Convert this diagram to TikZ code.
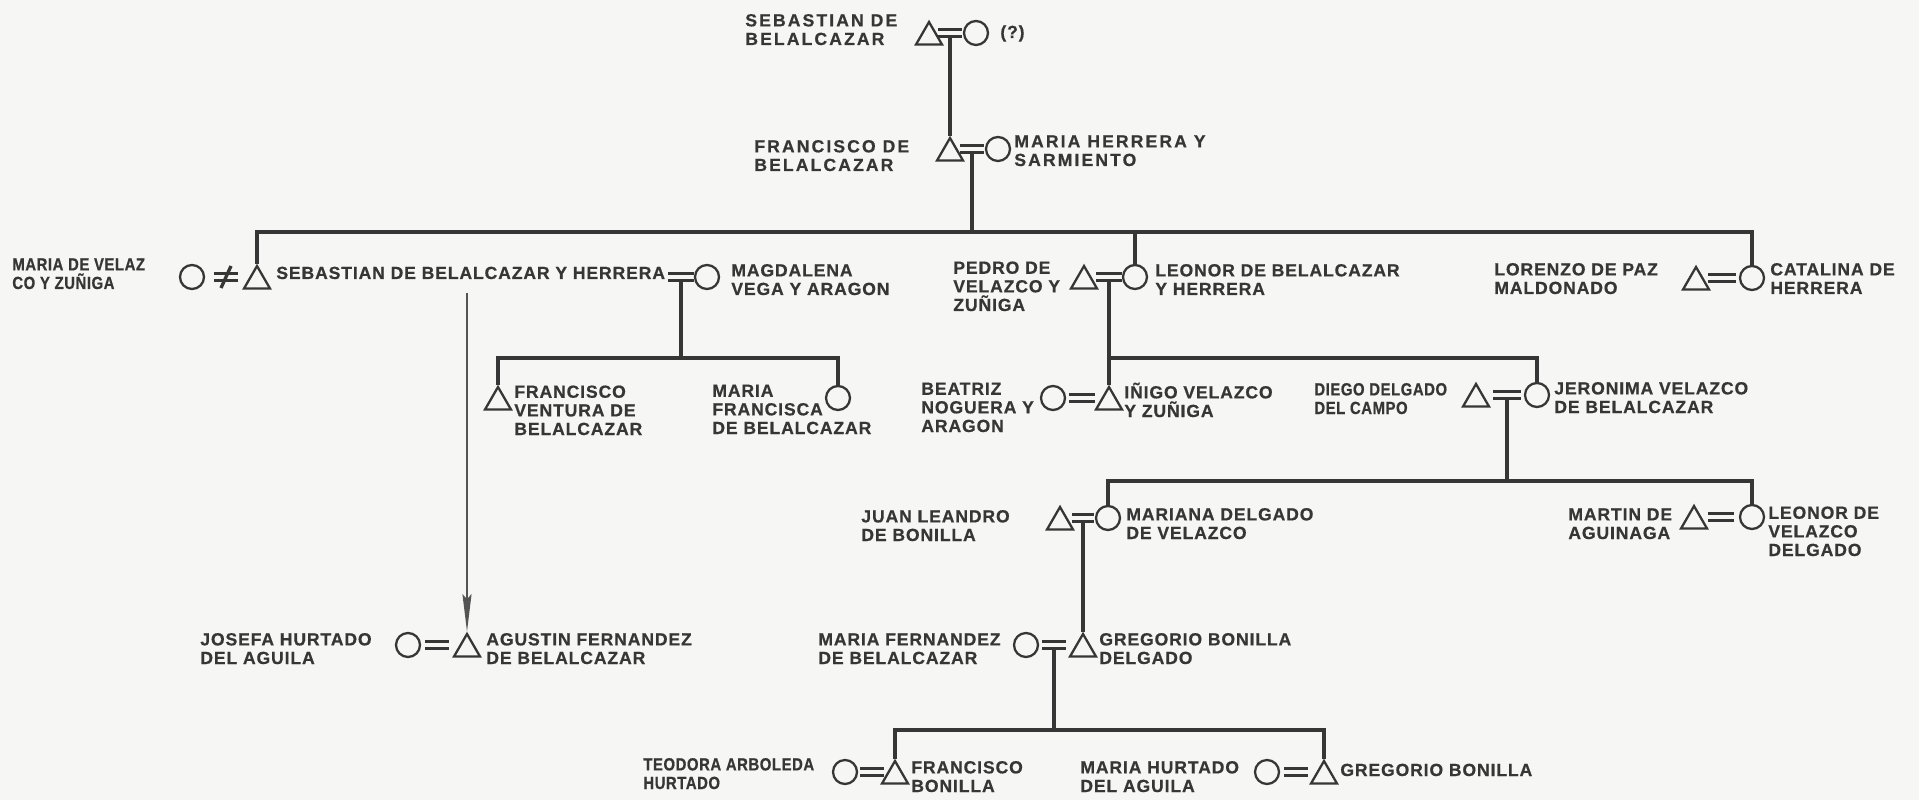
\documentclass[tikz,border=0pt]{standalone}
\usepackage{fontspec}
\setmainfont{Liberation Sans}[LetterSpace=5,FakeBold=0.6]
\newfontfamily\widefam{Liberation Sans}[LetterSpace=12,FakeBold=0.6]
\newfontfamily\narrowfam{Liberation Sans}[LetterSpace=3,FakeStretch=0.85,FakeBold=0.6]
\usetikzlibrary{arrows.meta,calc,shapes.geometric}
\definecolor{ink}{HTML}{363636}
\definecolor{paper}{HTML}{F6F6F4}
\newcommand{\labsize}{\bfseries\fontsize{10}{10.6}\selectfont}
\tikzset{
  male/.style={draw=ink,line width=1.3pt,regular polygon,regular polygon sides=3,minimum size=0.6cm,inner sep=0pt},
  female/.style={draw=ink,line width=1.3pt,circle,minimum size=0.48cm,inner sep=0pt},
  kin/.style={line width=1.8pt,draw=ink},
  wedline/.style={line width=1.9pt,draw=ink},
  illarr/.style={-{Stealth[length=0.75cm,width=0.18cm,inset=0.1cm]},line width=1.2pt,draw=ink!85},
  lab/.style={font=\labsize,text=ink,inner sep=0pt,align=left,anchor=base west},
  labw/.style={lab,font=\widefam\labsize},
  labn/.style={lab,font=\narrowfam\labsize}
}
\newcommand{\wed}[2]{\draw[wedline] ($(#1)+(-#2,-3.5)$) -- ($(#1)+(#2,-3.5)$) ($(#1)+(-#2,3.5)$) -- ($(#1)+(#2,3.5)$);}
\begin{document}
\begin{tikzpicture}[x=0.02cm,y=-0.02cm]
  \fill[paper] (0,0) rectangle (1919,800);
  \useasboundingbox (0,0) rectangle (1919,800);
  % first and second generation
  \node[male] (seb1) at (929,37) {};
  \node[female] (unk1) at (976,33) {};
  \coordinate (w1) at (950,33);
  \node[labw] (seb1t) at (745,45) {SEBASTIAN DE\\BELALCAZAR};
  \node[lab] (unk1t) at (1000,38) {(?)};
  \node[male] (fran) at (950,153) {};
  \node[female] (mherr) at (998,149) {};
  \coordinate (w2) at (972,149);
  \node[labw] (frant) at (754,171) {FRANCISCO DE\\BELALCAZAR};
  \node[labw] (mherrt) at (1014,166) {MARIA HERRERA Y\\SARMIENTO};
  % children of Francisco
  \node[female] (mvel) at (192,277) {};
  \coordinate (w3) at (226,277);
  \node[male] (seb2) at (257,281) {};
  \node[labn] (mvelt) at (12,289) {MARIA DE VELAZ\\CO Y ZUÑIGA};
  \node[lab] (seb2t) at (276,279) {SEBASTIAN DE BELALCAZAR Y HERRERA};
  \coordinate (w4) at (681,277);
  \node[female] (magda) at (707,277) {};
  \node[lab] (magdat) at (731,295) {MAGDALENA\\VEGA Y ARAGON};
  \node[male] (pedro) at (1084,281) {};
  \coordinate (w5) at (1109,277);
  \node[female] (leonor) at (1135,277) {};
  \node[lab] (pedrot) at (953,311) {PEDRO DE\\VELAZCO Y\\ZUÑIGA};
  \node[lab] (leonort) at (1155,295) {LEONOR DE BELALCAZAR\\Y HERRERA};
  \node[male] (lorenzo) at (1696,282) {};
  \coordinate (w6) at (1722,278);
  \node[female] (catalina) at (1752,278) {};
  \node[lab] (lorenzot) at (1494,294) {LORENZO DE PAZ\\MALDONADO};
  \node[lab] (catalinat) at (1770,294) {CATALINA DE\\HERRERA};
  % grandchildren
  \node[male] (fvent) at (498,402) {};
  \node[lab] (fventt) at (514,435) {FRANCISCO\\VENTURA DE\\BELALCAZAR};
  \node[female] (mfran) at (838,398) {};
  \node[lab] (mfrant) at (712,434) {MARIA\\FRANCISCA\\DE BELALCAZAR};
  \node[female] (beatriz) at (1053,398) {};
  \coordinate (w7) at (1082,398);
  \node[male] (inigo) at (1109,402) {};
  \node[lab] (beatrizt) at (921,432) {BEATRIZ\\NOGUERA Y\\ARAGON};
  \node[lab] (inigot) at (1124,417) {IÑIGO VELAZCO\\Y ZUÑIGA};
  \node[male] (diego) at (1476,399) {};
  \coordinate (w8) at (1507,395);
  \node[female] (jeron) at (1537,395) {};
  \node[labn] (diegot) at (1314,414) {DIEGO DELGADO\\DEL CAMPO};
  \node[lab] (jeront) at (1554,413) {JERONIMA VELAZCO\\DE BELALCAZAR};
  \node[male] (juan) at (1060,522) {};
  \coordinate (w9) at (1083,518);
  \node[female] (mariana) at (1108,518) {};
  \node[lab] (juant) at (861,541) {JUAN LEANDRO\\DE BONILLA};
  \node[lab] (marianat) at (1126,539) {MARIANA DELGADO\\DE VELAZCO};
  \node[male] (martin) at (1694,521) {};
  \coordinate (w10) at (1721,517);
  \node[female] (leonv) at (1752,517) {};
  \node[lab] (martint) at (1568,539) {MARTIN DE\\AGUINAGA};
  \node[lab] (leonvt) at (1768,556) {LEONOR DE\\VELAZCO\\DELGADO};
  \node[female] (josefa) at (408,645) {};
  \coordinate (w11) at (437,645);
  \node[male] (agustin) at (467,649) {};
  \node[lab] (josefat) at (200,664) {JOSEFA HURTADO\\DEL AGUILA};
  \node[lab] (agustint) at (486,664) {AGUSTIN FERNANDEZ\\DE BELALCAZAR};
  \node[female] (mfern) at (1026,645) {};
  \coordinate (w12) at (1054,645);
  \node[male] (gregorio) at (1083,649) {};
  \node[lab] (mfernt) at (818,664) {MARIA FERNANDEZ\\DE BELALCAZAR};
  \node[lab] (gregoriot) at (1099,664) {GREGORIO BONILLA\\DELGADO};
  \node[female] (teodora) at (845,772) {};
  \coordinate (w13) at (872,772);
  \node[male] (franb) at (895,776) {};
  \node[labn] (teodorat) at (643,789) {TEODORA ARBOLEDA\\HURTADO};
  \node[lab] (franbt) at (911,792) {FRANCISCO\\BONILLA};
  \node[female] (mhurt) at (1267,772) {};
  \coordinate (w14) at (1296,772);
  \node[male] (gregb) at (1324,776) {};
  \node[lab] (mhurtt) at (1080,792) {MARIA HURTADO\\DEL AGUILA};
  \node[lab] (gregbt) at (1340,776) {GREGORIO BONILLA};
  % marriages
  \wed{w1}{12} \wed{w2}{12} \wed{w3}{12} \wed{w4}{13} \wed{w5}{13}
  \wed{w6}{14} \wed{w7}{13} \wed{w8}{14} \wed{w9}{11} \wed{w10}{13}
  \wed{w11}{12} \wed{w12}{12} \wed{w13}{12} \wed{w14}{12}
  \draw[wedline] ($(w3)+(-5,11)$) -- ($(w3)+(5,-11)$);
  % descent
  \coordinate (s1) at (972,232);
  \coordinate (s2) at (681,358);
  \coordinate (s3) at (1109,358);
  \coordinate (s4) at (1507,481);
  \coordinate (s5) at (1054,730);
  \coordinate (ill) at (467,293);
  \draw[kin] ($(w1)+(0,3.5)$) -- (fran.north);
  \draw[kin] ($(w2)+(0,3.5)$) -- (s1);
  \draw[kin] (seb2.north) |- (s1) -| (catalina.north);
  \draw[kin] (s1 -| leonor.north) -- (leonor.north);
  \draw[kin] ($(w4)+(0,3.5)$) -- (s2);
  \draw[kin] (fvent.north) |- (s2) -| (mfran.north);
  \draw[illarr] (ill) -- (agustin.north);
  \draw[kin] ($(w5)+(0,3.5)$) -- (inigo.north);
  \draw[kin] (s3) -| (jeron.north);
  \draw[kin] ($(w8)+(0,3.5)$) -- (s4);
  \draw[kin] (mariana.north) |- (s4) -| (leonv.north);
  \draw[kin] ($(w9)+(0,3.5)$) -- (gregorio.north);
  \draw[kin] ($(w12)+(0,3.5)$) -- (s5);
  \draw[kin] (franb.north) |- (s5) -| (gregb.north);
\end{tikzpicture}
\end{document}
